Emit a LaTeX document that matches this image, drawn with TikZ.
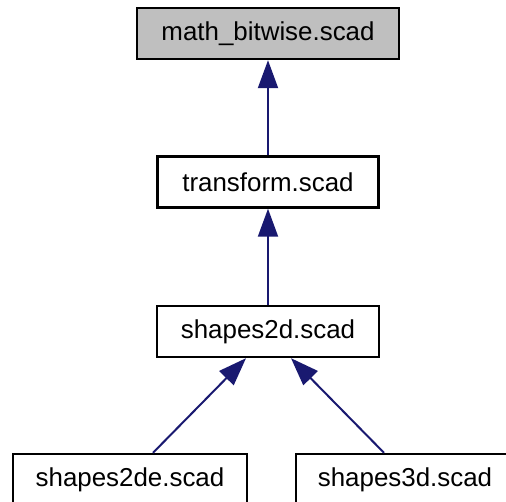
\documentclass[tikz,border=0pt]{standalone}
\usepackage{fontspec}
\setmainfont{Liberation Sans}
\usetikzlibrary{arrows.meta,calc}
\definecolor{edgeblue}{HTML}{191970}
\definecolor{graybox}{HTML}{BFBFBF}
\begin{document}
\begin{tikzpicture}[x=1pt,y=-1pt,
  filebox/.style={draw=black,line width=2.4pt,fill=white,inner sep=0pt,
    minimum height=51pt,font=\fontsize{25.9}{30}\selectfont},
  dep/.style={draw=edgeblue,line width=2pt,
    -{Triangle[length=28pt,width=20pt,fill=edgeblue]}}]
\useasboundingbox (0,0) rectangle (506,501);
\clip (0,0) rectangle (506,501);
\node[filebox,fill=graybox,minimum width=262pt] (math) at (268,33.5) {math\_bitwise.scad};
\node[filebox,minimum width=221pt] (tr) at (268,182) {transform.scad};
\node[filebox,minimum width=222pt] (s2d) at (268,331.5) {shapes2d.scad};
\node[filebox,minimum width=234pt] (s2de) at (130,479.5) {shapes2de.scad};
\node[filebox,minimum width=218pt] (s3d) at (405,479.5) {shapes3d.scad};
\draw[dep] (tr.north) -- (math.south);
\draw[dep] (s2d.north) -- (tr.south);
\draw[dep] ([xshift=23pt]s2de.north) -- ([xshift=-22pt]s2d.south);
\draw[dep] ([xshift=-21pt]s3d.north) -- ([xshift=23pt]s2d.south);
\end{tikzpicture}
\end{document}
